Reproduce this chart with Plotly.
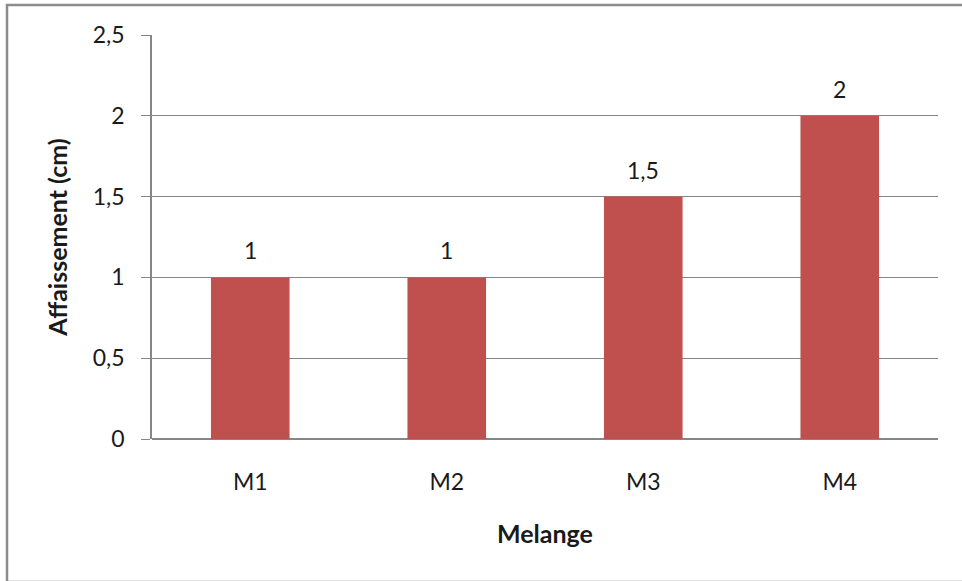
import plotly.graph_objects as go

# Slump test results per mix
melanges = ["M1", "M2", "M3", "M4"]
affaissement = [1, 1, 1.5, 2]
y_ticks = [0, 0.5, 1, 1.5, 2, 2.5]

BAR_COLOR = "#C0504D"
GRID_COLOR = "#868686"
TEXT_COLOR = "#1a1a1a"
FONT = "Lato, 'Open Sans', sans-serif"

W, H = 962, 581
L, R, T, B = 152, 24, 35, 142


def fr(v):
    return f"{v:g}".replace(".", ",")


fig = go.Figure(
    go.Bar(
        x=melanges,
        y=affaissement,
        marker=dict(color=BAR_COLOR, line=dict(width=0)),
        hoverinfo="x+y",
    )
)

# value labels above each bar
for m, v in zip(melanges, affaissement):
    fig.add_annotation(
        x=m, y=v, text=fr(v), showarrow=False, yanchor="bottom", yshift=11,
        font=dict(family=FONT, size=23, color=TEXT_COLOR),
    )

# outer chart frame (left, top and bottom edges inside the page)
pw, ph = W - L - R, H - T - B
x0 = (7 - L) / pw
x1 = 1 + (R + 20) / pw
y1 = 1 + (T - 5) / ph
y0 = 1 + (T - 582) / ph
fig.add_shape(
    type="rect", xref="paper", yref="paper", x0=x0, x1=x1, y0=y0, y1=y1,
    line=dict(color="#8C8C8C", width=2.5), fillcolor="rgba(0,0,0,0)", layer="below",
)

fig.update_layout(
    width=W, height=H,
    margin=dict(l=L, r=R, t=T, b=B),
    paper_bgcolor="white", plot_bgcolor="white",
    separators=", ",
    bargap=0.6,
    showlegend=False,
    font=dict(family=FONT, size=23, color=TEXT_COLOR),
    xaxis=dict(
        showgrid=False, showline=False, ticks="",
        tickfont=dict(size=23), ticklabelstandoff=27,
        title=dict(text="<b>Melange</b>", font=dict(size=25), standoff=31),
    ),
    yaxis=dict(
        range=[0, 2.5], tickvals=y_ticks, ticktext=[fr(v) for v in y_ticks],
        showgrid=True, gridcolor=GRID_COLOR, gridwidth=1.3,
        showline=True, linecolor=GRID_COLOR, linewidth=1.5,
        ticks="outside", ticklen=9, tickcolor=GRID_COLOR, tickwidth=1.3,
        zeroline=True, zerolinecolor=GRID_COLOR, zerolinewidth=2,
        tickfont=dict(size=23), ticklabelstandoff=12,
        title=dict(text="<b>Affaissement (cm)</b>", font=dict(size=25), standoff=18),
    ),
)

fig.write_html("out.html")
